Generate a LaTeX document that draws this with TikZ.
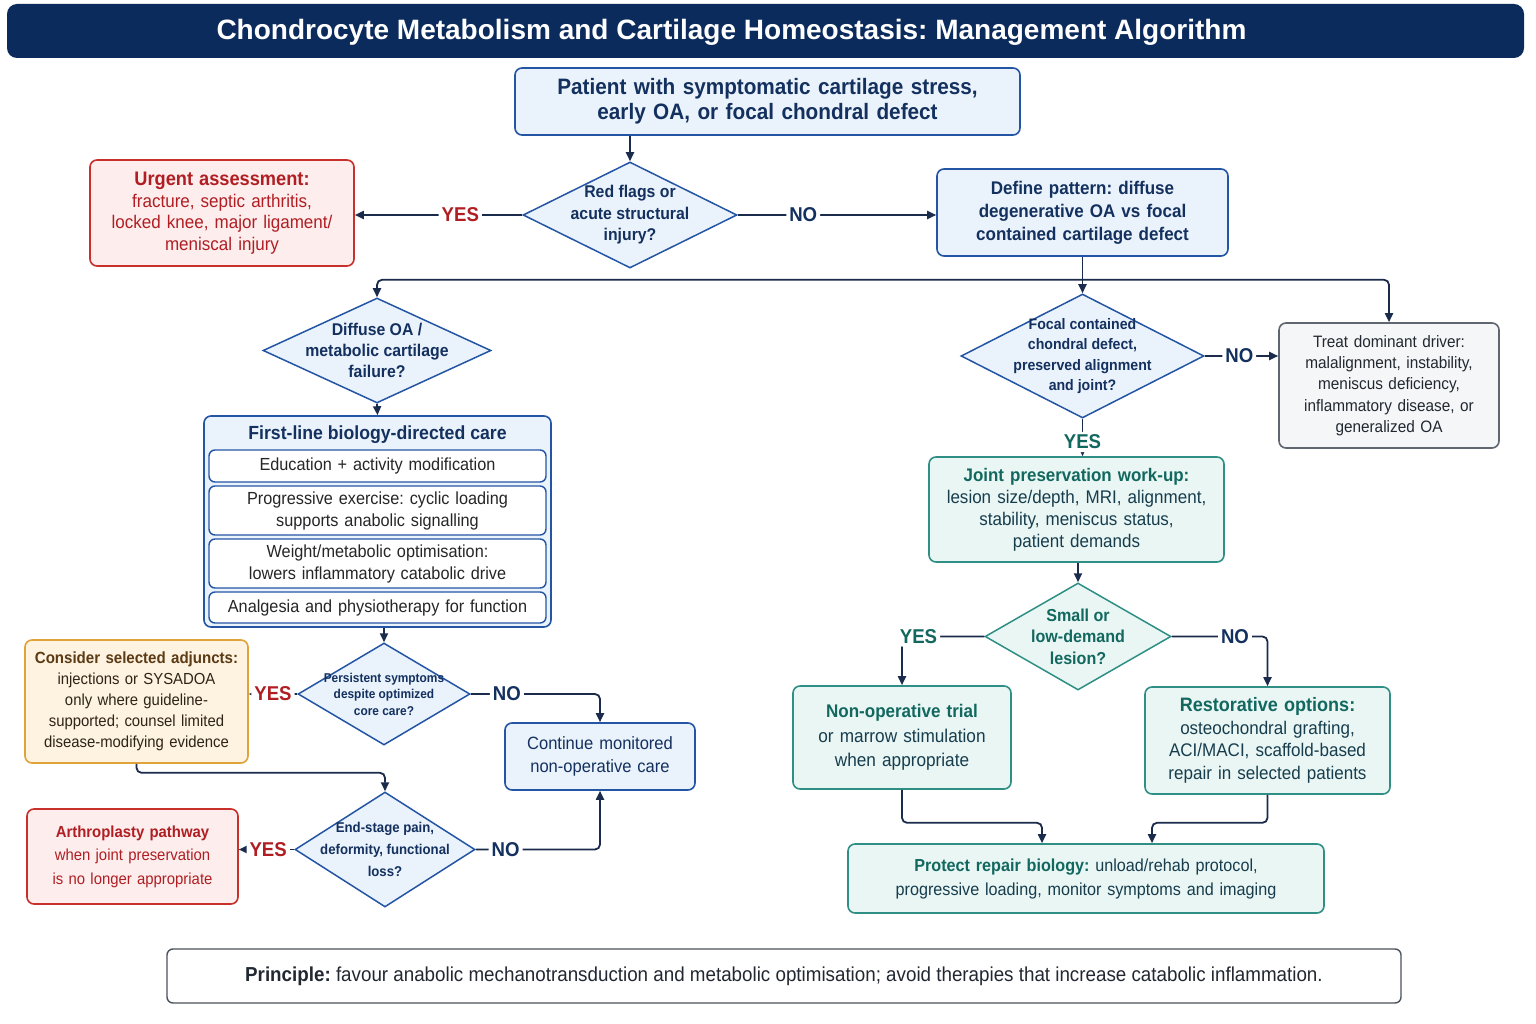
\documentclass[tikz,border=0pt]{standalone}
\usepackage{fontspec}
\setmainfont{Liberation Sans}[FakeStretch=0.93]
\newfontfamily\titlefont{Liberation Sans}
\usetikzlibrary{shapes.geometric,arrows.meta}
\frenchspacing

\definecolor{navyln}{HTML}{1A2B4C}
\definecolor{titlebg}{HTML}{0B2B5C}
\definecolor{bluebd}{HTML}{2455A4}
\definecolor{bluefl}{HTML}{EAF3FC}
\definecolor{bluetx}{HTML}{13305E}
\definecolor{redbd}{HTML}{C9302C}
\definecolor{redfl}{HTML}{FDEDEC}
\definecolor{redtx}{HTML}{B01E23}
\definecolor{orabd}{HTML}{E0A33A}
\definecolor{orafl}{HTML}{FDF3E0}
\definecolor{oratx}{HTML}{5B3A14}
\definecolor{orabody}{HTML}{2E2418}
\definecolor{greybd}{HTML}{5F6670}
\definecolor{greyfl}{HTML}{F5F6F7}
\definecolor{greytx}{HTML}{222831}
\definecolor{tealbd}{HTML}{2F8F85}
\definecolor{tealfl}{HTML}{E9F6F4}
\definecolor{tealtx}{HTML}{12685F}
\definecolor{tealbody}{HTML}{173D4D}

\newcommand{\fsz}[2]{\fontsize{#1}{#2}\selectfont}

\tikzset{
  box/.style={draw, rounded corners=7, line width=1.6, align=center, inner sep=4},
  bluebox/.style={box, draw=bluebd, fill=bluefl, text=bluetx},
  redbox/.style={box, draw=redbd, fill=redfl, text=redtx},
  orabox/.style={box, draw=orabd, fill=orafl, text=orabody},
  greybox/.style={box, draw=greybd, fill=greyfl, text=greytx},
  tealbox/.style={box, draw=tealbd, fill=tealfl, text=tealbody},
  subbox/.style={draw=bluebd, fill=white, rounded corners=6, line width=1.4,
    align=center, inner sep=2, text=black!85, minimum width=337, text width=333},
  dec/.style={diamond, aspect=2, inner sep=-15, line width=1.5, align=center,
    draw=bluebd, fill=bluefl, text=bluetx},
  tealdec/.style={dec, draw=tealbd, fill=tealfl, text=tealtx},
  arr/.style={-{Triangle[length=9pt,width=8pt]}, line width=1.8, draw=navyln, rounded corners=5},
  yesr/.style={fill=white, text=redtx, font=\fsz{20}{22}\bfseries, inner sep=3},
  nob/.style={fill=white, text=bluetx, font=\fsz{20}{22}\bfseries, inner sep=3},
  yest/.style={fill=white, text=tealtx, font=\fsz{20}{22}\bfseries, inner sep=3},
}

\begin{document}
\begin{tikzpicture}[x=1pt, y=-1pt]

    \fill[white] (0,0) rectangle (1536,1024);
    \useasboundingbox (0,0) rectangle (1536,1024);

    % title
    \node[fill=titlebg, rounded corners=10, minimum width=1517, minimum height=54] (titlebar) at (765.5,31) {};
    \node[text=white, font=\titlefont\bfseries\fsz{28}{30}] (title) at (731.5,32)
        {Chondrocyte Metabolism and Cartilage Homeostasis: Management Algorithm};

    % top of the algorithm
    \node[bluebox, minimum width=505, minimum height=67, text width=497,
        font=\bfseries\fsz{22.3}{25}] (start) at (767.5,101.5)
        {Patient with symptomatic cartilage stress,\\ early OA, or focal chondral defect};
    \node[dec, minimum width=214, minimum height=106, font=\bfseries\fsz{17}{21.5}] (red) at (630,215)
        {Red flags or\\ acute structural\\ injury?};
    \node[redbox, minimum width=262, minimum height=106, text width=256,
        font=\fsz{18.3}{21.5}] (urgent) at (222,213)
        {{\bfseries\fsz{19.6}{21.5}Urgent assessment:}\\ fracture, septic arthritis,\\ locked knee, major ligament/\\ meniscal injury};
    \node[bluebox, minimum width=291, minimum height=87, text width=283,
        font=\bfseries\fsz{18.3}{23}] (define) at (1082.5,212.5)
        {Define pattern: diffuse\\ degenerative OA vs focal\\ contained cartilage defect};

    % left branch: diffuse OA
    \node[dec, minimum width=228, minimum height=105, font=\bfseries\fsz{17}{21}] (diffuse) at (377,350.5)
        {Diffuse OA /\\ metabolic cartilage\\ failure?};
    \node[bluebox, minimum width=347, minimum height=211] (first) at (377.5,521.5) {};
    \node[text=bluetx, font=\bfseries\fsz{19}{22}] (firsttitle) at (377.5,435) {First-line biology-directed care};
    \node[subbox, minimum height=32, font=\fsz{17.5}{22}] (care1) at (377.5,466)
        {Education + activity modification};
    \node[subbox, minimum height=49, font=\fsz{17.5}{22}] (care2) at (377.5,510.5)
        {Progressive exercise: cyclic loading\\ supports anabolic signalling};
    \node[subbox, minimum height=49, font=\fsz{17.5}{22}] (care3) at (377.5,563.5)
        {Weight/metabolic optimisation:\\ lowers inflammatory catabolic drive};
    \node[subbox, minimum height=31, font=\fsz{17.5}{22}] (care4) at (377.5,607.5)
        {Analgesia and physiotherapy for function};

    \node[dec, minimum width=172, minimum height=102, font=\bfseries\fsz{12.8}{16.5}] (persist) at (384,694)
        {Persistent symptoms\\ despite optimized\\ core care?};
    \node[orabox, minimum width=221, minimum height=123, text width=215,
        font=\fsz{16}{21}] (adjunct) at (136.5,701.5)
        {{\bfseries\color{oratx}\fsz{16.2}{21}Consider selected adjuncts:}\\ injections or SYSADOA\\ only where guideline-\\ supported; counsel limited\\ disease-modifying evidence};
    \node[bluebox, minimum width=188, minimum height=67, text width=182,
        font=\fsz{17.8}{23}] (cont) at (600,756.5)
        {Continue monitored\\ non-operative care};
    \node[dec, minimum width=180, minimum height=115, font=\bfseries\fsz{14.2}{22}] (endst) at (385,849.5)
        {End-stage pain,\\ deformity, functional\\ loss?};
    \node[redbox, minimum width=209, minimum height=95, text width=203,
        font=\fsz{16}{23.5}] (arthro) at (132.5,856.5)
        {{\bfseries Arthroplasty pathway}\\ when joint preservation\\ is no longer appropriate};

    % right branch: focal defect
    \node[dec, minimum width=243, minimum height=124, font=\bfseries\fsz{15.2}{20.5}] (focal) at (1082.5,356)
        {Focal contained\\ chondral defect,\\ preserved alignment\\ and joint?};
    \node[greybox, minimum width=218, minimum height=125, text width=212,
        font=\fsz{16.5}{21.3}] (treat) at (1389,385.5)
        {Treat dominant driver:\\ malalignment, instability,\\ meniscus deficiency,\\ inflammatory disease, or\\ generalized OA};
    \node[tealbox, minimum width=293, minimum height=105, text width=287,
        font=\fsz{18.3}{22}] (joint) at (1076.5,509.5)
        {{\bfseries\color{tealtx}\fsz{18.2}{22}Joint preservation work-up:}\\ lesion size/depth, MRI, alignment,\\ stability, meniscus status,\\ patient demands};
    \node[tealdec, minimum width=186, minimum height=107, font=\bfseries\fsz{17.3}{21.5}] (small) at (1078,636.5)
        {Small or\\ low-demand\\ lesion?};
    \node[tealbox, minimum width=216, minimum height=103, text width=210,
        font=\fsz{18.5}{24.5}] (nonop) at (902,737.5)
        {{\bfseries\color{tealtx}\fsz{18.3}{24.5}Non-operative trial}\\ or marrow stimulation\\ when appropriate};
    \node[tealbox, minimum width=243, minimum height=107, text width=237,
        font=\fsz{18.3}{22.5}] (restor) at (1267.5,740.5)
        {{\bfseries\color{tealtx}\fsz{19.4}{22.5}Restorative options:}\\ osteochondral grafting,\\ ACI/MACI, scaffold-based\\ repair in selected patients};
    \node[tealbox, minimum width=474, minimum height=69, text width=468,
        font=\fsz{17.4}{24}] (protect) at (1086,878.5)
        {{\bfseries\color{tealtx}Protect repair biology:} unload/rehab protocol,\\ progressive loading, monitor symptoms and imaging};

    % principle
    \node[box, draw=greybd!80!black, fill=white, rounded corners=6, line width=1.4,
        minimum width=1234, minimum height=54, text=greytx, font=\fsz{20.2}{22}] (principle) at (784,976)
        {\textbf{Principle:} favour anabolic mechanotransduction and metabolic optimisation; avoid therapies that increase catabolic inflammation.};

    % connectors
    \draw[arr] (start.south -| red.north) -- (red.north);
    \draw[arr] (red.west) -- node[yesr, pos=0.37] {YES} (red.west -| urgent.east);
    \draw[arr] (red.east) -- node[nob, pos=0.33] {NO} (red.east -| define.west);
    \draw[arr] (define.south) -- (focal.north);
    \draw[arr] (define.south) ++(0,23) coordinate (split) -| (diffuse.north);
    \draw[arr] (split) -| (treat.north);
    \draw[arr] (diffuse.south) -- (first.north);
    \draw[arr] (persist.north |- first.south) -- (persist.north);
    \draw[arr] (persist.west) -- node[yesr, pos=0.5] {YES} (persist.west -| adjunct.east);
    \draw[arr] (persist.east) -- node[nob, pos=0.28] {NO} (persist.east -| cont.north) -- (cont.north);
    \draw[arr] (adjunct.south) -- ++(0,9) -| (endst.north);
    \draw[arr] (endst.west) -- node[yesr, pos=0.47] {YES} (endst.west -| arthro.east);
    \draw[arr] (endst.east) -- node[nob, pos=0.24] {NO} (endst.east -| cont.south) -- (cont.south);
    \draw[arr] (focal.east) -- node[nob, pos=0.47] {NO} (focal.east -| treat.west);
    \draw[arr] (focal.south) -- node[yest, pos=0.62] {YES} (focal.south |- joint.north);
    \draw[arr] (joint.south -| small.north) -- (small.north);
    \draw[arr] (small.west) -- node[yest, pos=0.8] {YES} (small.west -| nonop.north) -- (nonop.north);
    \draw[arr] (small.east) -- node[nob, pos=0.66] {NO} (small.east -| restor.north) -- (restor.north);
    \draw[arr] (nonop.south) -- ++(0,33) -| ([xshift=-44pt]protect.north);
    \draw[arr] (restor.south) -- ++(0,28) -| ([xshift=66pt]protect.north);

\end{tikzpicture}
\end{document}
